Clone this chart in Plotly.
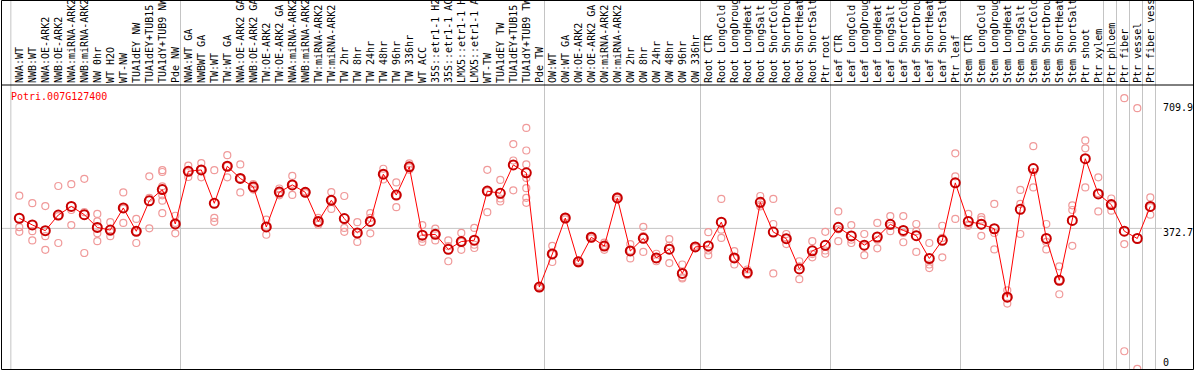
import plotly.graph_objects as go
import numpy as np

title_text = "Potri.007G127400"

labels = [
    "NWA:WT", "NWB:WT", "NWA:OE-ARK2", "NWB:OE-ARK2", "NWA:miRNA-ARK2", "NWB:miRNA-ARK2",
    "NW 0hr", "WT H2O", "WT-NW", "TUA1dEY NW", "TUA1dEY+TUB15", "TUA1dY+TUB9 NW", "Pde NW",
    "NWA:WT GA", "NWBWT GA", "TW:WT", "TW:WT GA", "NWA:OE-ARK2 GA", "NWB:OE-ARK2 GA",
    "TW:OE-ARK2", "TW:OE-ARK2 GA", "NWA:miRNA-ARK2", "NWB:miRNA-ARK2", "TW:miRNA-ARK2",
    "TW:miRNA-ARK2", "TW 2hr", "TW 8hr", "TW 24hr", "TW 48hr", "TW 96hr", "TW 336hr",
    "WT ACC", "35S::etr1-1 H2", "35S::etr1-1 AC", "LMX5::etr1-1 H", "LMX5::etr1-1 A",
    "WT-TW", "TUA1dEY TW", "TUA1dEY+TUB15", "TUA1dY+TUB9 TW", "Pde TW",
    "OW:WT", "OW:WT GA", "OW:OE-ARK2", "OW:OE-ARK2 GA", "OW:miRNA-ARK2", "OW:miRNA-ARK2",
    "OW 2hr", "OW 8hr", "OW 24hr", "OW 48hr", "OW 96hr", "OW 336hr",
    "Root CTR", "Root LongCold", "Root LongDroug", "Root LongHeat", "Root LongSalt",
    "Root ShortCold", "Root ShortDrou", "Root ShortHeat", "Root ShortSalt", "Ptr root",
    "Leaf CTR", "Leaf LongCold", "Leaf LongDroug", "Leaf LongHeat", "Leaf LongSalt",
    "Leaf ShortCold", "Leaf ShortDrou", "Leaf ShortHeat", "Leaf ShortSalt", "Ptr leaf",
    "Stem CTR", "Stem LongCold", "Stem LongDroug", "Stem LongHeat", "Stem LongSalt",
    "Stem ShortCold", "Stem ShortDrou", "Stem ShortHeat", "Stem ShortSalt", "Ptr shoot",
    "Ptr xylem", "Ptr phloem", "Ptr fiber", "Ptr vessel", "Ptr fiber vess",
]

nw_reps = [
    [464, 376, 363], [443, 365, 339], [435, 351, 313], [491, 407, 332], [496, 424, 382],
    [511, 418, 304], [413, 392, 359, 337], [390, 363, 351], [473, 428, 388], [399, 363, 332],
    [518, 458, 373], [535, 530, 490, 465, 450, 415], [408, 388, 359],
]
tw_reps = [
    [548, 532, 516], [555, 537, 515], [535, 402, 391], [577, 546, 515], [551, 512, 473],
    [496, 488, 481], [397, 378, 355], [484, 473, 465], [519, 497, 466], [476, 473, 471],
    [402, 391, 383], [474, 452, 427], [463, 374, 363], [390, 355, 335], [415, 402, 359],
    [539, 524, 509], [501, 464, 432], [554, 543, 536], [382, 344, 335], [372, 357, 339],
    [339, 323, 281], [360, 335, 313], [374, 327, 318], [536, 476, 418], [508, 456, 448],
    [608, 562, 479], [653, 590, 551, 513, 485, 458, 444], [212, 209, 206],
]
ow_reps = [
    [324, 301, 279], [405, 402, 398], [283, 280, 275], [351, 348, 345], [333, 324, 313],
    [462, 458, 453], [329, 311, 289], [377, 351, 307], [302, 288, 281], [343, 325, 276],
    [272, 236, 233], [324, 321, 318],
]
root_reps = [
    [362, 311, 298], [455, 369, 346], [309, 290, 272], [258, 247, 242], [463, 439, 434],
    [455, 385, 247], [357, 346, 329], [281, 267, 231], [337, 301, 292], [363, 311, 302],
]
leaf_reps = [
    [420, 370, 337], [382, 341, 332], [357, 323, 298], [388, 341, 317], [407, 380, 365],
    [407, 360, 334], [385, 365, 307], [332, 272, 262], [380, 346, 292], [582, 518, 399],
]
stem_reps = [
    [413, 383, 380], [404, 397, 352], [441, 360, 314], [200, 179, 163], [480, 441, 357],
    [602, 530, 487], [385, 335, 314], [267, 228, 189], [437, 424, 324], [618, 596, 487],
    [515, 471, 420],
]
tissue_reps = [
    [456, 439, 422], [736, 329, 30], [708, -19], [459, 432, 411],
]

# last category index of each section (gray separators)
section_ends = [12, 40, 52, 62, 72, 83, 84, 85, 86, 87]
ref_value = 372.7
axis_ticks = [0, 372.7, 709.9]

reps = nw_reps + tw_reps + ow_reps + root_reps + leaf_reps + stem_reps + tissue_reps
idx = np.arange(len(labels))
means = [float(np.mean(r)) for r in reps]
rx = [i for i, r in enumerate(reps) for _ in r]
ry = [v for r in reps for v in r]

# geometry (pixels)
W, H = 1194, 370
L, R, T, B = 2, 1157, 85, 369
pw, ph = R - L, B - T


def px_x(p):
    return (p - L) / pw


def px_y(p):
    return 1 - (p - T) / ph


fig = go.Figure()
fig.add_trace(go.Scatter(
    x=rx, y=ry, mode="markers", hoverinfo="skip",
    marker=dict(symbol="circle-open", size=7, color="#f09a9a", line=dict(width=1.2, color="#f09a9a")),
))
fig.add_trace(go.Scatter(
    x=idx, y=means, mode="lines+markers",
    line=dict(color="#ff0000", width=1),
    marker=dict(symbol="circle-open", size=9, color="#c80000", line=dict(width=2, color="#c80000")),
))

shapes = []
# vertical separators
seps = [-0.65] + [e + 0.4 for e in section_ends]
for s in seps:
    shapes.append(dict(type="line", xref="x", yref="paper", x0=s, x1=s, y0=0, y1=px_y(0),
                       line=dict(color="#c4c4c4", width=1), layer="below"))
# reference horizontal line
shapes.append(dict(type="line", xref="paper", yref="y", x0=0, x1=px_x(1162), y0=ref_value, y1=ref_value,
                   line=dict(color="#c4c4c4", width=1), layer="below"))
# frame
shapes.append(dict(type="rect", xref="paper", yref="paper", x0=px_x(1.5), x1=px_x(1193.5),
                   y0=px_y(369.5), y1=px_y(0.5), line=dict(color="black", width=1)))
shapes.append(dict(type="line", xref="paper", yref="paper", x0=px_x(1.5), x1=px_x(1193.5),
                   y0=1, y1=1, line=dict(color="black", width=1)))

annotations = [dict(text=title_text, xref="paper", yref="paper", x=px_x(8.5), y=px_y(97),
                    xanchor="left", yanchor="middle", showarrow=False,
                    font=dict(family="DejaVu Sans Mono", size=10, color="#ff0000"))]
for v in axis_ticks:
    annotations.append(dict(text=("%g" % v), xref="paper", yref="y", x=px_x(1161), y=v,
                            xanchor="left", yanchor="middle", showarrow=False,
                            yshift=(-4 if v == ref_value else 0),
                            font=dict(family="DejaVu Sans Mono", size=10, color="black")))

fig.update_layout(
    width=W, height=H, template="none",
    margin=dict(l=L, r=W - R, t=T, b=H - B, pad=0),
    paper_bgcolor="white", plot_bgcolor="white",
    showlegend=False, shapes=shapes, annotations=annotations,
    xaxis=dict(range=[(L - 19.3) / 13, (R - 19.3) / 13], side="top",
               tickmode="array", tickvals=list(idx), ticktext=labels, tickangle=-90,
               tickfont=dict(family="DejaVu Sans Mono", size=10, color="black"),
               ticks="", showgrid=False, zeroline=False, showline=False, automargin=False,
               ticklabelstandoff=1),
    yaxis=dict(range=[(362 - B) / 0.3585, (362 - T) / 0.3585], showticklabels=False,
               ticks="", showgrid=False, zeroline=False, showline=False, automargin=False),
)

fig.write_html("out.html", config={"displayModeBar": False},
               post_script="document.body.style.margin='0';document.body.style.padding='0';")
